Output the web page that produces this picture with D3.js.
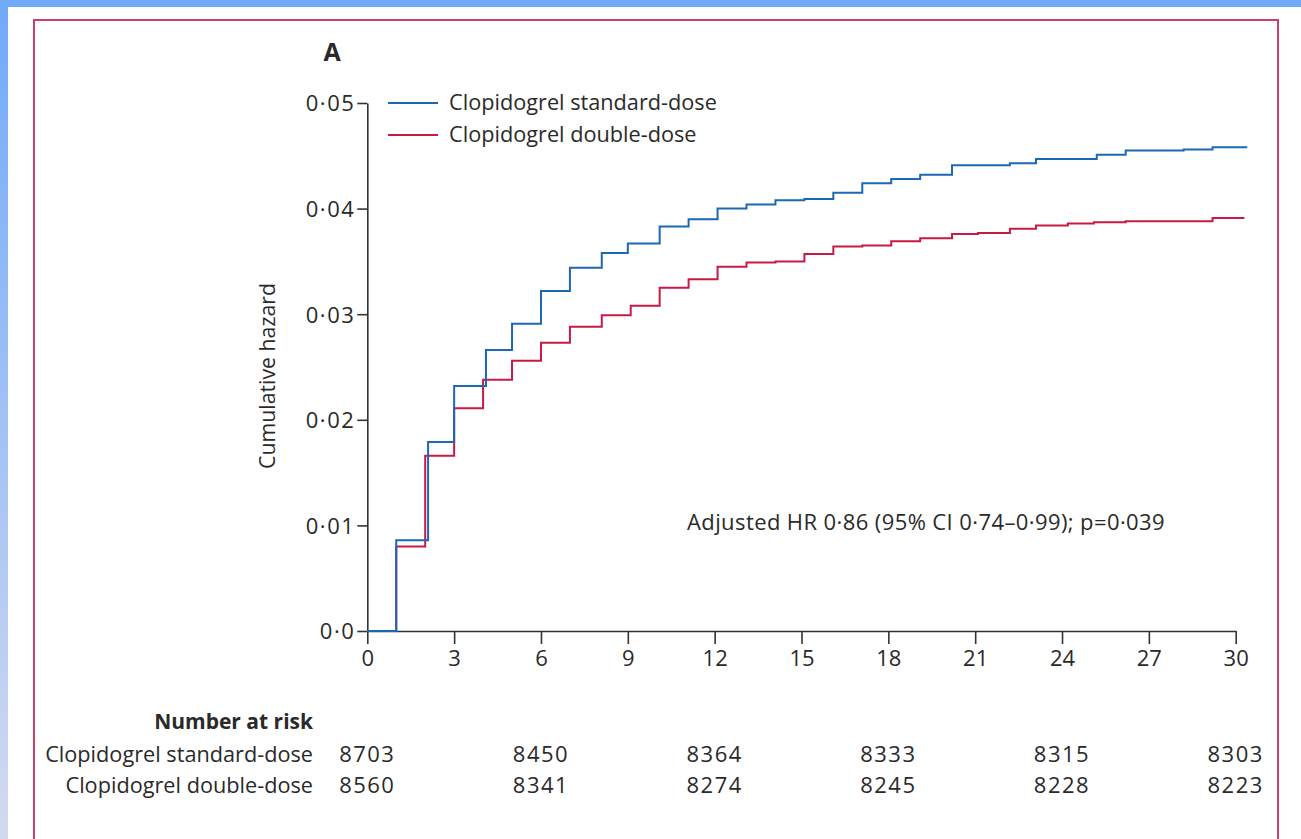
<!DOCTYPE html>
<html>
<head>
<meta charset="utf-8">
<script src="https://cdn.jsdelivr.net/npm/d3@7"></script>
<style>
html, body { margin: 0; padding: 0; background: #fff; overflow: hidden; }
svg { display: block; }
text { font-family: "Open Sans", sans-serif; fill: #2a2a2a; }
</style>
</head>
<body>
<div class="chart"></div>
<script>
// series names
var seriesNames = ["Clopidogrel standard-dose", "Clopidogrel double-dose"];

// step curves (months, cumulative hazard)
var stdTimes  = [0, 1.0, 2.1, 3.0, 4.1, 5.0, 6.0, 7.0, 8.1, 9.0, 10.1, 11.1, 12.1, 13.1, 14.1, 15.1, 16.1, 17.1, 18.1, 19.1, 20.2, 22.2, 23.1, 25.2, 26.2, 28.2, 29.2, 30.4];
var stdHazard = [0, 0.0086, 0.0179, 0.0232, 0.0266, 0.0291, 0.0322, 0.0344, 0.0358, 0.0367, 0.0383, 0.0390, 0.0400, 0.0404, 0.0408, 0.0409, 0.0415, 0.0424, 0.0428, 0.0432, 0.0441, 0.0443, 0.0447, 0.0451, 0.0455, 0.0456, 0.0458, 0.0458];

var dblTimes  = [0, 1.0, 2.0, 3.0, 4.0, 5.0, 6.0, 7.0, 8.1, 9.1, 10.1, 11.1, 12.1, 13.1, 14.1, 15.1, 16.1, 17.1, 18.1, 19.1, 20.2, 21.1, 22.2, 23.1, 24.2, 25.1, 26.2, 29.2, 30.3];
var dblHazard = [0, 0.0080, 0.0166, 0.0211, 0.0238, 0.0256, 0.0273, 0.0288, 0.0299, 0.0308, 0.0325, 0.0333, 0.0345, 0.0349, 0.0350, 0.0357, 0.0364, 0.0365, 0.0369, 0.0372, 0.0376, 0.0377, 0.0381, 0.0384, 0.0386, 0.0387, 0.0388, 0.0391, 0.0391];

// axes
var xTicks = [0, 3, 6, 9, 12, 15, 18, 21, 24, 27, 30];
var yTicks = [0, 0.01, 0.02, 0.03, 0.04, 0.05];
var yTickLabels = ["0·0", "0·01", "0·02", "0·03", "0·04", "0·05"];

// number at risk table
var riskTimes = [0, 6, 12, 18, 24, 30];
var riskStd = [8703, 8450, 8364, 8333, 8315, 8303];
var riskDbl = [8560, 8341, 8274, 8245, 8228, 8223];

var annotation = "Adjusted HR 0·86 (95% CI 0·74–0·99); p=0·039";

var colors = ["#1c68b4", "#c81a44"];

var W = 1301, H = 839;
var svg = d3.select(".chart").append("svg")
    .attr("width", W)
    .attr("height", H);

// page background (blue frame + white sheet + crimson box)
var defs = svg.append("defs");
var grad = defs.append("linearGradient").attr("id", "side")
    .attr("x1", 0).attr("y1", 0).attr("x2", 0).attr("y2", 1);
grad.append("stop").attr("offset", "0%").attr("stop-color", "#70aaf9");
grad.append("stop").attr("offset", "100%").attr("stop-color", "#d3daef");

svg.append("rect").attr("x", 0).attr("y", 0).attr("width", W).attr("height", H).attr("fill", "#fff");
svg.append("rect").attr("x", 0).attr("y", 0).attr("width", 8).attr("height", H).attr("fill", "url(#side)");
svg.append("rect").attr("x", 0).attr("y", 0).attr("width", W).attr("height", 7).attr("fill", "#70abfa");
svg.append("rect").attr("x", 34).attr("y", 20).attr("width", 1244).attr("height", 840)
    .attr("fill", "none").attr("stroke", "#c9406a").attr("stroke-width", 2);

var x = d3.scaleLinear().domain([0, 30]).range([367.3, 1235.7]);
var y = d3.scaleLinear().domain([0, 0.05]).range([631, 103]);

// y axis
var yAxis = svg.append("g")
    .attr("transform", "translate(" + x(0) + ",0)")
    .call(d3.axisLeft(y).tickValues(yTicks)
        .tickFormat(function (d, i) { return yTickLabels[i]; })
        .tickSize(10).tickSizeOuter(0).tickPadding(2));
yAxis.selectAll("text").style("font-size", "22px").style("letter-spacing", "1.5px").attr("dy", "0.36em");

// x axis
var xAxis = svg.append("g")
    .attr("transform", "translate(0," + y(0) + ")")
    .call(d3.axisBottom(x).tickValues(xTicks)
        .tickSize(13).tickSizeOuter(0).tickPadding(6));
xAxis.selectAll("text").style("font-size", "22px");

svg.selectAll(".domain, .tick line").attr("stroke", "#333").attr("stroke-width", 1.6);
svg.selectAll(".tick text").attr("fill", "#2a2a2a");

// step curves
var line = d3.line()
    .x(function (d) { return x(d[0]); })
    .y(function (d) { return y(d[1]); })
    .curve(d3.curveStepAfter);

var curves = [
    d3.zip(dblTimes, dblHazard),
    d3.zip(stdTimes, stdHazard)
];
var curveColors = [colors[1], colors[0]];

svg.selectAll("path.km")
    .data(curves)
    .enter()
    .append("path")
    .attr("class", "km")
    .attr("d", line)
    .attr("fill", "none")
    .attr("stroke", function (d, i) { return curveColors[i]; })
    .attr("stroke-width", 2);

// panel letter
svg.append("text").attr("x", 332).attr("y", 61)
    .attr("text-anchor", "middle")
    .style("font-size", "25px").style("font-weight", "bold")
    .text("A");

// legend
var legend = svg.append("g");
seriesNames.forEach(function (name, i) {
    var ly = 103 + i * 32;
    legend.append("line")
        .attr("x1", 388).attr("x2", 438)
        .attr("y1", ly).attr("y2", ly)
        .attr("stroke", colors[i]).attr("stroke-width", 2);
    legend.append("text")
        .attr("x", 449).attr("y", ly + 7)
        .style("font-size", "21.7px")
        .text(name);
});

// y axis title
svg.append("text")
    .attr("transform", "translate(275,376) rotate(-90)")
    .attr("text-anchor", "middle")
    .style("font-size", "21.3px")
    .text("Cumulative hazard");

// annotation
svg.append("text").attr("x", 687).attr("y", 530)
    .style("font-size", "22px").style("letter-spacing", "0.4px")
    .text(annotation);

// number at risk
svg.append("text").attr("x", 313).attr("y", 729)
    .attr("text-anchor", "end")
    .style("font-size", "21px").style("font-weight", "bold")
    .text("Number at risk");

var rows = [riskStd, riskDbl];
rows.forEach(function (vals, r) {
    var ry = 762 + r * 31;
    svg.append("text").attr("x", 313).attr("y", ry)
        .attr("text-anchor", "end")
        .style("font-size", "21.7px")
        .text(seriesNames[r]);
    svg.selectAll("text.risk" + r)
        .data(vals)
        .enter()
        .append("text")
        .attr("class", "risk" + r)
        .attr("x", function (d, i) { return x(riskTimes[i]); })
        .attr("y", ry)
        .attr("text-anchor", "middle")
        .style("font-size", "22px")
        .style("letter-spacing", "1.5px")
        .text(function (d) { return d; });
});
</script>
</body>
</html>
